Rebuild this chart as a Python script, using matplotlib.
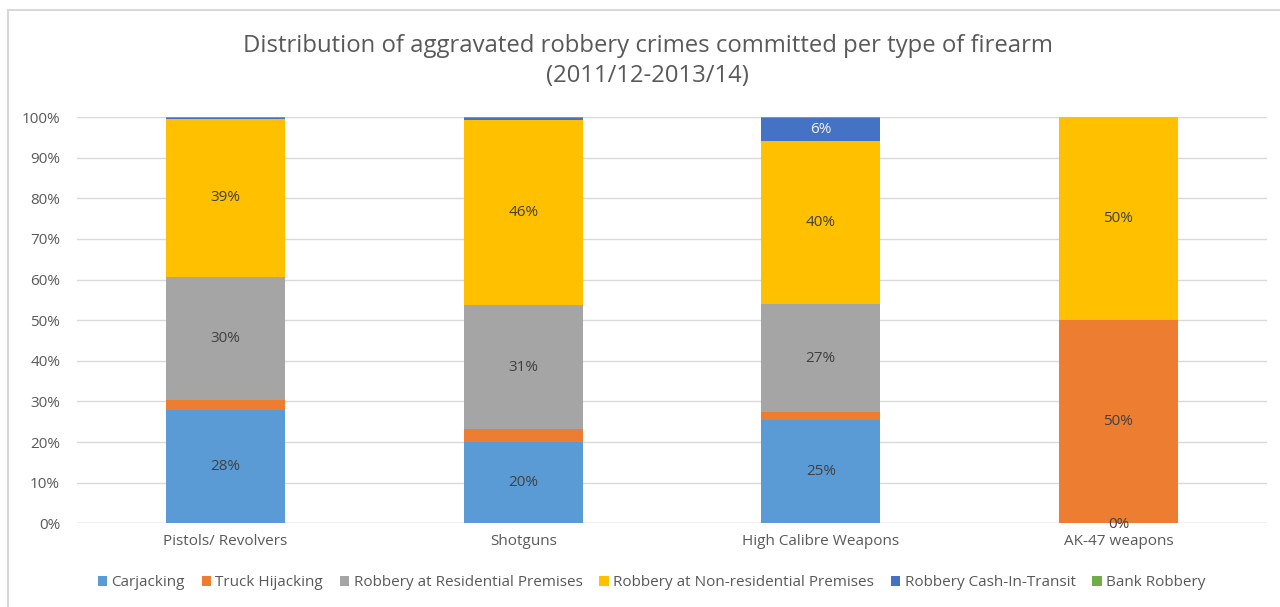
import numpy as np
import matplotlib.pyplot as plt
from matplotlib.lines import Line2D

plt.rcParams['font.family'] = ['Open Sans', 'DejaVu Sans']

categories = ['Pistols/ Revolvers', 'Shotguns', 'High Calibre Weapons', 'AK-47 weapons']
series = ['Carjacking', 'Truck Hijacking', 'Robbery at Residential Premises',
          'Robbery at Non-residential Premises', 'Robbery Cash-In-Transit', 'Bank Robbery']
carjacking = [28.0, 20.0, 25.4, 0.0]
truck = [2.3, 3.1, 1.9, 50.0]
residential = [30.3, 30.6, 26.6, 0.0]
non_residential = [39.0, 45.6, 40.2, 50.0]
cash_in_transit = [0.2, 0.5, 5.7, 0.0]
bank = [0.2, 0.2, 0.2, 0.0]
colors = ['#5B9BD5', '#ED7D31', '#A5A5A5', '#FFC000', '#4472C4', '#70AD47']

data = [carjacking, truck, residential, non_residential, cash_in_transit, bank]
# which segments carry a value label (as in the source chart)
labelled = [[1, 1, 1, 1], [0, 0, 0, 1], [1, 1, 1, 0], [1, 1, 1, 1], [0, 0, 1, 0], [0, 0, 0, 0]]

fig = plt.figure(figsize=(12.8, 6.07), dpi=100)
ax = fig.add_axes([0.06, 0.138, 0.93, 0.669])

x = np.arange(len(categories))
bottom = np.zeros(len(categories))
for vals, col, name, lab in zip(data, colors, series, labelled):
    vals = np.array(vals)
    ax.bar(x, vals, 0.4, bottom=bottom, color=col, label=name, zorder=3)
    for i, v in enumerate(vals):
        if lab[i]:
            tc = '#F2F2F2' if col == '#4472C4' else '#404040'
            y = bottom[i] + v / 2
            if v == 0:
                y = bottom[i] - 0.2
            ax.text(x[i], y, f'{v:.0f}%', ha='center', va='center', fontsize=11,
                    color=tc, zorder=4)
    bottom += vals

ax.set_ylim(0, 100)
ax.set_xlim(-0.5, 3.5)
ax.set_yticks(range(0, 101, 10))
ax.set_yticklabels([f'{t}%' for t in range(0, 101, 10)])
ax.set_xticks(x)
ax.set_xticklabels(categories)
ax.yaxis.grid(True, color='#D9D9D9', linewidth=1, zorder=0)
ax.tick_params(length=0, labelsize=11, colors='#595959')
ax.tick_params(axis='y', pad=12)
ax.tick_params(axis='x', pad=8)
for s in ax.spines.values():
    s.set_visible(False)
ax.axhline(0, color='#D9D9D9', linewidth=1, zorder=2)

fig.text(0.506, 0.925, 'Distribution of aggravated robbery crimes committed per type of firearm',
         ha='center', va='center', fontsize=17.2, color='#595959')
fig.text(0.506, 0.875, '(2011/12-2013/14)', ha='center', va='center', fontsize=17.2, color='#595959')

fig.legend(loc='lower center', bbox_to_anchor=(0.509, 0.005), ncol=6, frameon=False,
           fontsize=11, handlelength=0.6, handleheight=0.6, handletextpad=0.3,
           columnspacing=1.1, labelcolor='#595959')

# chart frame (left and top edges visible)
fig.add_artist(Line2D([0.0066, 0.0066], [0, 0.983], color='#D9D9D9', linewidth=1.5,
                      transform=fig.transFigure))
fig.add_artist(Line2D([0.0066, 1], [0.983, 0.983], color='#D9D9D9', linewidth=1.5,
                      transform=fig.transFigure))

fig.savefig('out.png', dpi=100, facecolor='white')
